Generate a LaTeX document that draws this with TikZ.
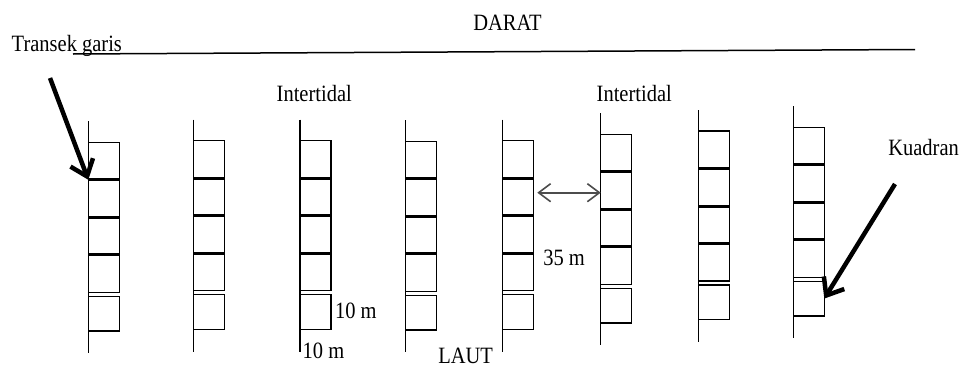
\documentclass[tikz,border=0pt]{standalone}
\usepackage{graphicx}
\usepackage{fontspec}
\setmainfont{Liberation Serif}
\usetikzlibrary{arrows.meta}

% slightly tall lettering
\newcommand{\stretchtxt}[1]{\scalebox{1}[1.14]{#1}}

\tikzset{
  lbl/.style={anchor=base west, inner sep=0pt, outer sep=0pt,
              font=\fontsize{20.5}{24}\selectfont},
  quad/.style={draw, line width=1.4pt, minimum width=31pt, minimum height=37.5pt,
               inner sep=0pt, outer sep=0pt, anchor=north west},
  lastquad/.style={quad, minimum height=34.5pt},
  transline/.style={line width=1.3pt},
  divider/.style={line width=3pt},
  pointer/.style={line width=4.5pt, -{Straight Barb[length=15pt, width=24pt]}},
  spacing/.style={line width=1.6pt, draw=black!70,
                  {Straight Barb[length=12pt, width=18pt]}-{Straight Barb[length=12pt, width=18pt]}},
}

\begin{document}
\begin{tikzpicture}[x=1pt, y=-1pt]
\useasboundingbox (0,0) rectangle (968,367);

% shoreline
\coordinate (shoreW) at (73,54);
\coordinate (shoreE) at (915,49.5);
\draw[line width=1.5pt] (shoreW) -- (shoreE);

% transect lines with five quadrats each
\foreach \i/\x/\t in {1/88.3/142.3, 2/193.3/140.7, 3/300/140.7, 4/405.7/141.3,
                      5/502.3/140.7, 6/600.7/134.3, 7/698.3/131, 8/793.3/127.3} {
  \coordinate (t\i top) at (\x,\t-21);
  \coordinate (t\i bot) at (\x,\t+211);
  \draw[transline] (t\i top) -- (t\i bot);
  \node[quad] (t\i q1) at (\x,\t) {};
  \node[quad] (t\i q2) at (t\i q1.south west) {};
  \node[quad] (t\i q3) at (t\i q2.south west) {};
  \node[quad] (t\i q4) at (t\i q3.south west) {};
  \node[lastquad] (t\i q5) at ([yshift=-4pt]t\i q4.south west) {};
  \foreach \k in {1,2,3}
    \draw[divider] (t\i q\k.south west) -- (t\i q\k.south east);
}

% labels
\node[lbl] (darat)   at (473.3,30)   {\stretchtxt{DARAT}};
\node[lbl] (transek) at (11.7,51.7)  {\stretchtxt{Transek garis}};
\node[lbl] (interL)  at (276.7,101)  {\stretchtxt{Intertidal}};
\node[lbl] (interR)  at (596.7,101)  {\stretchtxt{Intertidal}};
\node[lbl] (kuadran) at (888.3,155)  {\stretchtxt{Kuadran}};
\node[lbl] (jarak)   at (543.3,265)  {\stretchtxt{35 m}};
\node[lbl] (sisiA)   at (335,318.3)  {\stretchtxt{10 m}};
\node[lbl] (sisiB)   at (302.7,358)  {\stretchtxt{10 m}};
\node[lbl] (laut)    at (438.3,363.5){\stretchtxt{LAUT}};

% pointers
\coordinate (tgTail) at (50,78);
\draw[pointer] (tgTail) -- (t1q1.south west);
\coordinate (kdTail) at (895,184);
\draw[pointer] (kdTail) -- (t8q5.east);

% spacing between transects
\coordinate (gapL) at (537.3,192.7);
\draw[spacing] (gapL) -- (gapL -| t6top);
\end{tikzpicture}
\end{document}
